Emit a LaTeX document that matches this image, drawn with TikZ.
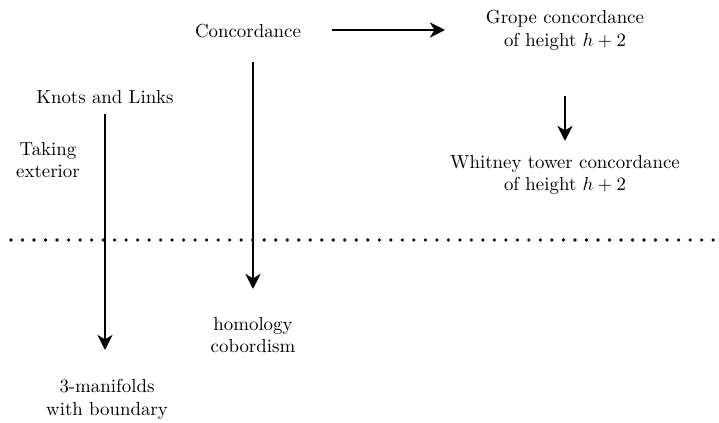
\documentclass[tikz,border=0pt]{standalone}
\usetikzlibrary{arrows.meta}
\tikzset{
  arr/.style={-{Stealth[length=8pt,width=8pt,inset=2.4pt]},line width=1.2pt},
  txt/.style={align=center,inner sep=0pt}
}
\begin{document}
\begin{tikzpicture}[x=0.53pt,y=-0.53pt]
      \useasboundingbox (0,0) rectangle (719,423);
      % upper half
      \node[txt] (conc) at (248,31) {Concordance};
      \node[txt] (grope) at (565,30) {Grope concordance\\of height $h+2$};
      \node[txt] (whit) at (565,175) {Whitney tower concordance\\of height $h+2$};
      \node[txt] (knots) at (105,97) {Knots and Links};
      \node[txt] (ext) at (48,160) {Taking\\exterior};

      \coordinate (ca) at (332,30);
      \coordinate (cb) at (445,30);
      \draw[arr] (ca) -- (cb);

      \coordinate (ga) at (565,96);
      \coordinate (gb) at (565,141);
      \draw[arr] (ga) -- (gb);

      % the dividing line
      \coordinate (la) at (11,240);
      \coordinate (lb) at (719,240);
      \draw[line width=1.9pt,line cap=round,dash pattern=on 0pt off 6.1pt] (la) -- (lb);

      % lower half
      \node[txt] (homc) at (253,335) {homology\\cobordism};
      \node[txt] (mfld) at (107,399) {3-manifolds\\with boundary};

      \coordinate (ka) at (105,114);
      \coordinate (kb) at (105,350);
      \draw[arr] (ka) -- (kb);

      \coordinate (ha) at (253,62);
      \coordinate (hb) at (253,289);
      \draw[arr] (ha) -- (hb);
\end{tikzpicture}
\end{document}
